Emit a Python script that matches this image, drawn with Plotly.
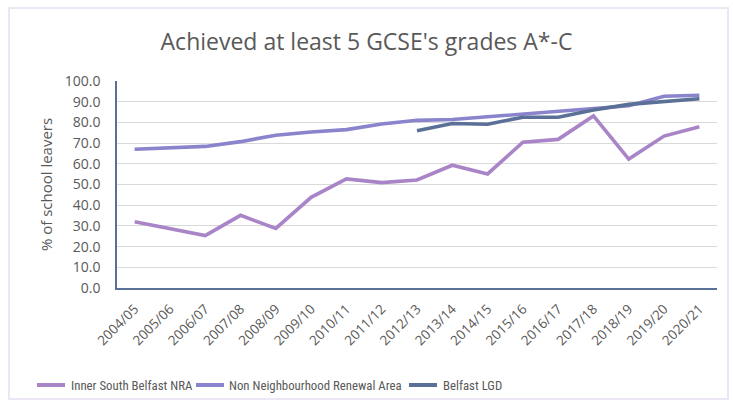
import plotly.graph_objects as go

years = ["2004/05", "2005/06", "2006/07", "2007/08", "2008/09", "2009/10", "2010/11",
         "2011/12", "2012/13", "2013/14", "2014/15", "2015/16", "2016/17", "2017/18",
         "2018/19", "2019/20", "2020/21"]
inner_south = [32.0, 28.6, 25.3, 35.1, 28.8, 43.8, 52.7, 50.9, 52.2, 59.3, 55.1, 70.4,
               71.8, 83.1, 62.3, 73.4, 77.9]
non_nra = [67.0, 67.8, 68.4, 70.7, 73.8, 75.4, 76.5, 79.2, 81.0, 81.4, 82.8, 84.0,
           85.6, 86.8, 88.0, 92.6, 93.1]
belfast_lgd = [None, None, None, None, None, None, None, None, 76.0, 79.5, 79.1, 82.5,
               82.5, 86.0, 88.7, 90.2, 91.4]

names = ["Inner South Belfast NRA", "Non Neighbourhood Renewal Area", "Belfast LGD"]
colors = ["#a985c8", "#8a84cc", "#5b7096"]

W, H = 733, 409
L, R, T, B = 117, 16, 81, 121
PW, PH = W - L - R, H - T - B


def px_x(px):
    return (px - L) / PW


def px_y(py):
    return (H - B - py) / PH


fig = go.Figure()
for name, vals, col in zip(names, [inner_south, non_nra, belfast_lgd], colors):
    fig.add_trace(go.Scatter(x=years, y=vals, name=name, mode="lines",
                             line=dict(color=col, width=3.6), connectgaps=False,
                             showlegend=False))

font_family = "Open Sans, Liberation Sans, sans-serif"
narrow_family = "Liberation Sans Narrow, Roboto Condensed, DejaVu Sans Condensed, sans-serif"
fig.update_layout(
    width=W, height=H,
    paper_bgcolor="white", plot_bgcolor="white",
    margin=dict(l=L, r=R, t=T, b=B),
    title=dict(text="Achieved at least 5 GCSE's grades A*-C", x=0.5, xanchor="center",
               y=0.897, yanchor="middle", yref="container",
               font=dict(family=font_family, size=23, color="#595959")),
    font=dict(family=font_family, color="#595959"),
    showlegend=False,
    xaxis=dict(type="category", tickangle=-45, tickfont=dict(size=13.5, color="#595959"),
               showgrid=False, showline=True, linecolor="#5b7096", linewidth=1.5,
               ticks="", range=[-0.5, 16.5], automargin=False, ticklabelstandoff=6),
    yaxis=dict(range=[0, 100], dtick=10, tickformat=".1f",
               tickfont=dict(size=14, color="#595959"),
               showgrid=True, gridcolor="#d9d9d9", gridwidth=1,
               showline=True, linecolor="#5b7096", linewidth=1.5, ticks="",
               zeroline=False, ticklabelstandoff=12, automargin=False,
               title=dict(text="% of school leavers", font=dict(size=15, color="#595959"),
                          standoff=8)),
)

# custom legend (line samples + labels) below the axis
legend_line_x = [(37, 65), (196, 224), (409, 437)]
legend_text_x = [69, 227, 441]
ly = px_y(385)
for name, col, (a, b), tx in zip(names, colors, legend_line_x, legend_text_x):
    fig.add_shape(type="line", xref="paper", yref="paper", x0=px_x(a), x1=px_x(b),
                  y0=ly, y1=ly, line=dict(color=col, width=4))
    fig.add_annotation(text=name, xref="paper", yref="paper", x=px_x(tx), y=ly,
                       xanchor="left", yanchor="middle", showarrow=False,
                       font=dict(family=narrow_family, size=12.8, color="#595959"))

# faint outer chart border
fig.add_shape(type="rect", xref="paper", yref="paper", x0=px_x(9), x1=px_x(728),
              y0=px_y(399), y1=px_y(8), line=dict(color="#ece6f5", width=2), layer="below")

fig.write_html("out.html", config={"displayModeBar": False},
               post_script="document.body.style.margin='0px';document.body.style.overflow='hidden';")
